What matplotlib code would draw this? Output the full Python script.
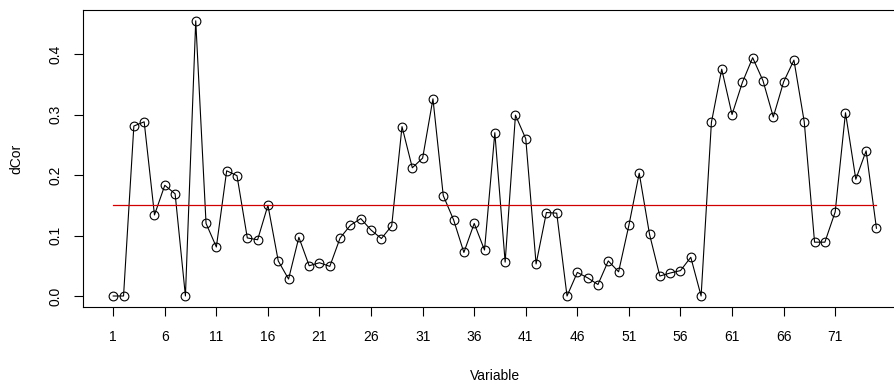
import matplotlib
matplotlib.use("Agg")
import matplotlib.pyplot as plt
import numpy as np

plt.rcParams['font.family'] = ['Liberation Sans', 'DejaVu Sans']

variables = list(range(1, 76))
dcor = [0.000, 0.000, 0.281, 0.288, 0.134, 0.183, 0.169, 0.000, 0.455, 0.120,
        0.081, 0.207, 0.199, 0.096, 0.093, 0.150, 0.058, 0.028, 0.097, 0.050,
        0.055, 0.049, 0.096, 0.117, 0.128, 0.109, 0.095, 0.116, 0.280, 0.212,
        0.228, 0.326, 0.166, 0.126, 0.072, 0.120, 0.076, 0.270, 0.056, 0.299,
        0.260, 0.053, 0.138, 0.137, 0.000, 0.039, 0.030, 0.019, 0.058, 0.040,
        0.117, 0.203, 0.102, 0.033, 0.038, 0.042, 0.064, 0.000, 0.287, 0.375,
        0.300, 0.353, 0.394, 0.356, 0.296, 0.354, 0.390, 0.288, 0.089, 0.089,
        0.139, 0.303, 0.193, 0.240, 0.112]
threshold = 0.15
xticks = list(range(1, 76, 5))
yticks = [0.0, 0.1, 0.2, 0.3, 0.4]

fig = plt.figure(figsize=(8.94, 3.87), dpi=100)
ax = fig.add_axes([0.0925, 0.2067, 0.922, 0.768])

ax.plot(variables, dcor, color='black', linewidth=0.8, marker='o',
        markersize=6.3, markerfacecolor='none', markeredgecolor='black',
        markeredgewidth=0.8)
ax.plot([variables[0], variables[-1]], [threshold, threshold], color='#d00000',
        linewidth=0.9)

xr = max(variables) - min(variables)
ax.set_xlim(min(variables) - 0.04 * xr, max(variables) + 0.04 * xr)
yr = max(dcor) - min(dcor)
ax.set_ylim(min(dcor) - 0.04 * yr, max(dcor) + 0.04 * yr)

ax.set_xticks(xticks)
ax.set_xticklabels([str(t) for t in xticks])
ax.set_yticks(yticks)
ax.set_yticklabels([f"{t:.1f}" for t in yticks], rotation=90, va='center')

ax.tick_params(axis='both', direction='out', length=6.5, width=0.8,
               labelsize=10, color='black')
ax.tick_params(axis='x', pad=10)
ax.tick_params(axis='y', pad=8)
for s in ax.spines.values():
    s.set_linewidth(0.8)
    s.set_color('black')

ax.set_xlabel('Variable', fontsize=10, labelpad=18)
ax.set_ylabel('dCor', fontsize=10, labelpad=18)

fig.savefig('out.png', dpi=100)
